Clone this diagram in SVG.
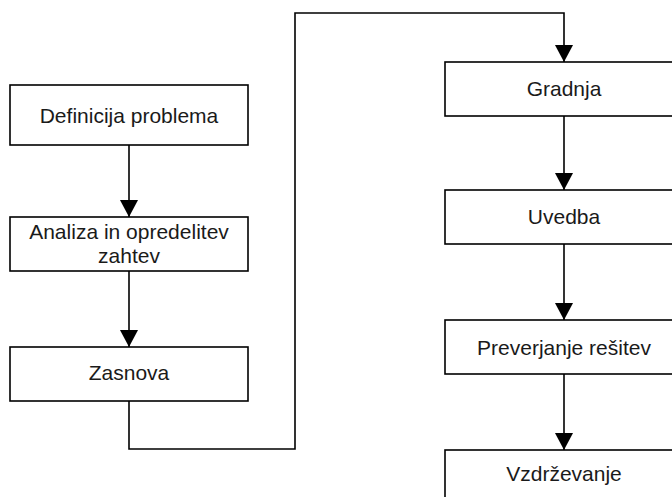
<svg xmlns="http://www.w3.org/2000/svg" width="672" height="497" viewBox="0 0 672 497">
  <style>
    .box { fill: #ffffff; stroke: #000000; stroke-width: 1.6; }
    .lbl { font-family: "Liberation Sans", Arial, sans-serif; font-size: 21px; fill: #1a1a1a; text-anchor: middle; }
    .edge { fill: none; stroke: #000000; stroke-width: 1.6; marker-end: url(#arrow); }
  </style>
  <defs>
    <marker id="arrow" markerUnits="userSpaceOnUse" markerWidth="18" markerHeight="18" viewBox="0 0 18 18" refX="17" refY="9" orient="auto">
      <path d="M0,0 L17,9 L0,18 Z" fill="#000000"/>
    </marker>
  </defs>
  <rect width="672" height="497" fill="#ffffff"/>

  <g id="connectors">
    <path class="edge" d="M129,145 V217"/>
    <path class="edge" d="M129,271 V347"/>
    <path class="edge" d="M129,401 V449 H295 V13 H564 V62"/>
    <path class="edge" d="M564,116 V190"/>
    <path class="edge" d="M564,244 V320"/>
    <path class="edge" d="M564,374 V450"/>
  </g>

  <g id="definicija">
    <rect class="box" x="10" y="85" width="238" height="60"/>
    <text class="lbl" x="129" y="122.5">Definicija problema</text>
  </g>
  <g id="analiza">
    <rect class="box" x="10" y="217" width="238" height="54"/>
    <text class="lbl" x="129" y="239">Analiza in opredelitev</text>
    <text class="lbl" x="129" y="263">zahtev</text>
  </g>
  <g id="zasnova">
    <rect class="box" x="10" y="347" width="238" height="54"/>
    <text class="lbl" x="129" y="380">Zasnova</text>
  </g>
  <g id="gradnja">
    <rect class="box" x="445" y="62" width="238" height="54"/>
    <text class="lbl" x="564" y="96">Gradnja</text>
  </g>
  <g id="uvedba">
    <rect class="box" x="445" y="190" width="238" height="54"/>
    <text class="lbl" x="564" y="224">Uvedba</text>
  </g>
  <g id="preverjanje">
    <rect class="box" x="445" y="320" width="238" height="54"/>
    <text class="lbl" x="564" y="355">Preverjanje rešitev</text>
  </g>
  <g id="vzdrzevanje">
    <rect class="box" x="445" y="450" width="238" height="54"/>
    <text class="lbl" x="564" y="481">Vzdrževanje</text>
  </g>
</svg>
